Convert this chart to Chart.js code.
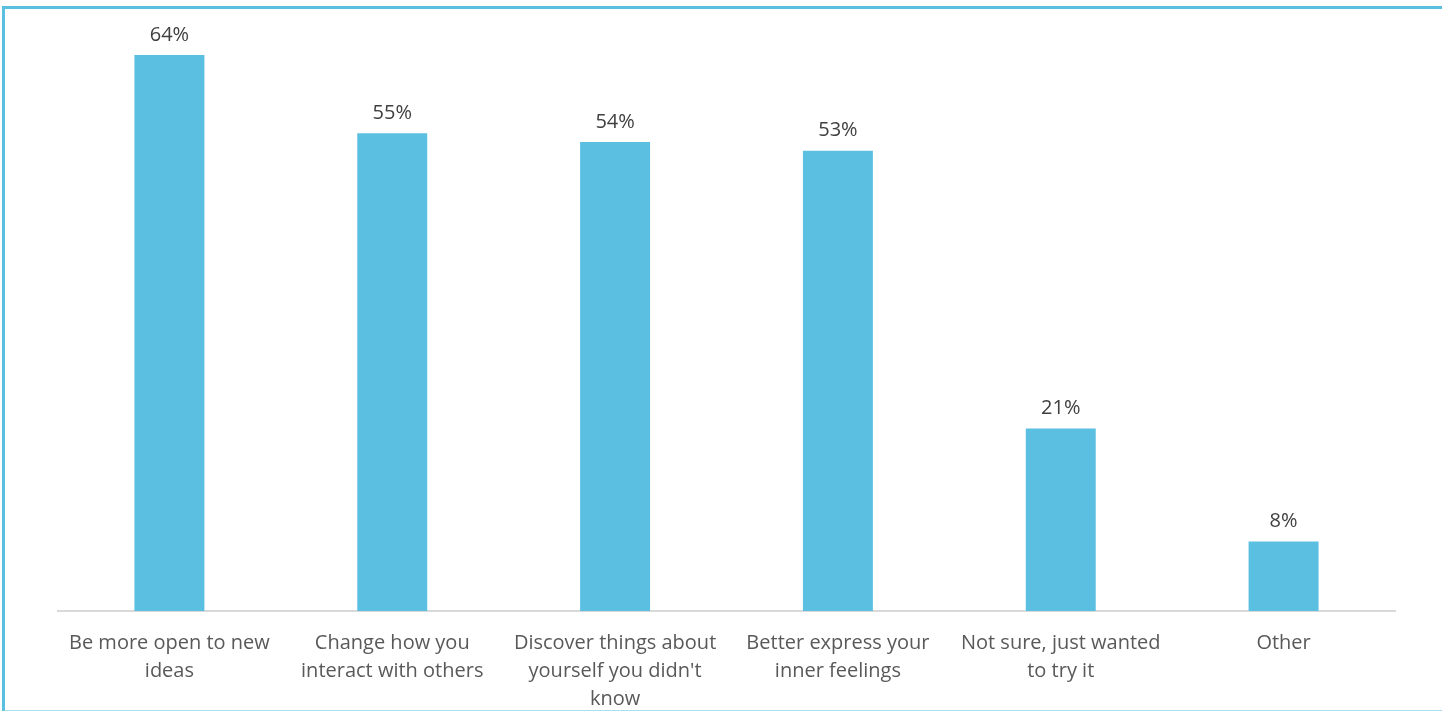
<!DOCTYPE html>
<html>
<head>
<meta charset="utf-8">
<script src="https://cdn.jsdelivr.net/npm/chart.js@4/dist/chart.umd.min.js"></script>
<style>
  html, body { margin: 0; padding: 0; background: #fff; overflow: hidden; }
  #wrap { position: relative; width: 1442px; height: 711px; }
  #frame {
    position: absolute; left: 2px; top: 6px; width: 1460px; height: 701px;
    border-left: 3px solid #5bbfe0; border-top: 3px solid #5bbfe0;
    border-bottom: 2px solid #a9ddf0; pointer-events: none;
  }
  canvas { position: absolute; left: 0; top: 0; }
</style>
</head>
<body>
<div id="wrap">
  <canvas id="chart" width="1442" height="711"></canvas>
  <div id="frame"></div>
</div>
<script>
const labels = [
  ['Be more open to new', 'ideas'],
  ['Change how you', 'interact with others'],
  ['Discover things about', 'yourself you didn\'t', 'know'],
  ['Better express your', 'inner feelings'],
  ['Not sure, just wanted', 'to try it'],
  ['Other']
];
const values = [64, 55, 54, 53, 21, 8];

// value labels above each bar
const valueLabels = {
  id: 'valueLabels',
  afterDatasetsDraw(chart) {
    const ctx = chart.ctx;
    const meta = chart.getDatasetMeta(0);
    ctx.save();
    ctx.font = '20px "Open Sans"';
    ctx.fillStyle = '#404040';
    ctx.textAlign = 'center';
    ctx.textBaseline = 'bottom';
    meta.data.forEach((bar, i) => {
      ctx.fillText(values[i] + '%', bar.x, bar.y - 10);
    });
    ctx.restore();
  }
};

const ctx = document.getElementById('chart').getContext('2d');
const chart = new Chart(ctx, {
  type: 'bar',
  data: {
    labels: labels,
    datasets: [{
      data: values,
      backgroundColor: '#5bbfe1',
      categoryPercentage: 1,
      barPercentage: 0.314
    }]
  },
  options: {
    responsive: false,
    animation: false,
    layout: { padding: { left: 58, right: 47, top: 3, bottom: 0 } },
    plugins: { legend: { display: false }, tooltip: { enabled: false } },
    scales: {
      x: {
        grid: { display: false, drawTicks: false },
        border: { display: true, color: '#d9d9d9', width: 2 },
        ticks: {
          color: '#595959',
          padding: 18,
          maxRotation: 0,
          autoSkip: false,
          font: { family: 'Open Sans', size: 20, lineHeight: 1.4 }
        },
        afterFit: (s) => { s.height = 100; }
      },
      y: {
        display: false,
        min: 0,
        max: 70
      }
    }
  },
  plugins: [valueLabels]
});
</script>
</body>
</html>
